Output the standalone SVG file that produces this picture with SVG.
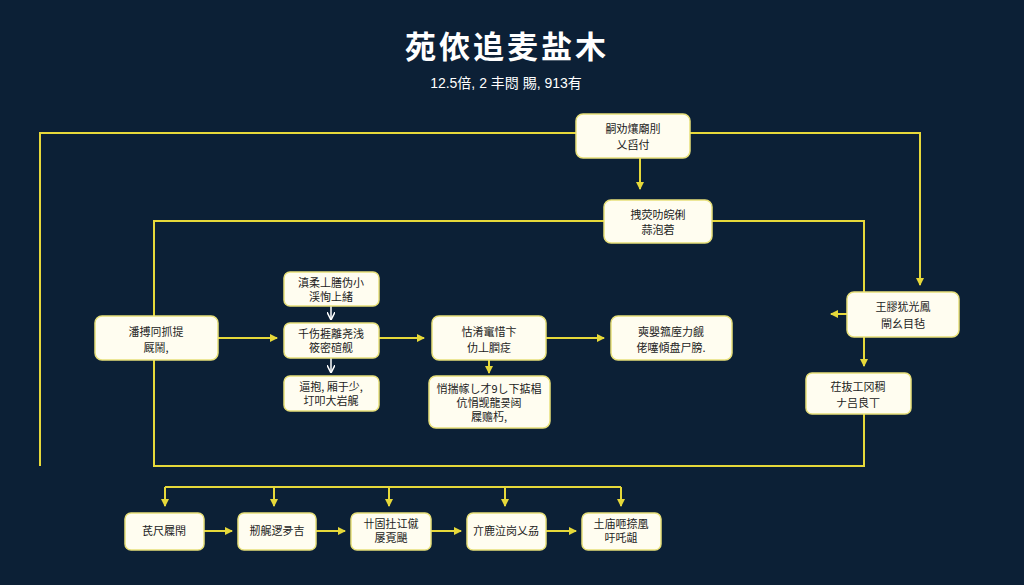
<svg xmlns="http://www.w3.org/2000/svg" width="1024" height="585" viewBox="0 0 1024 585">
<style>
.n{fill:#fffdf0;stroke:#e8e07a;stroke-width:1.5}
.t{font-family:"Noto Sans CJK SC","Liberation Sans",sans-serif;fill:#222;text-anchor:middle;font-size:11px}
.c{stroke:#e6d83a;stroke-width:2;fill:none}
.w{stroke:#ffffff;stroke-width:1.5;fill:none}
</style>
<defs>
<marker id="a" markerWidth="8" markerHeight="8" refX="7" refY="4" orient="auto" markerUnits="userSpaceOnUse"><path d="M0,0L8,4L0,8z" fill="#e6d83a"/></marker>
<marker id="b" markerWidth="8" markerHeight="8" refX="7" refY="4" orient="auto" markerUnits="userSpaceOnUse"><path d="M0,0L8,4L0,8" fill="none" stroke="#fff" stroke-width="1.5"/></marker>
</defs>
<rect width="1024" height="585" fill="#0c2036"/>
<text x="507" y="58" font-family="Noto Sans CJK SC,serif" font-size="31" font-weight="bold" letter-spacing="3" fill="#fff" text-anchor="middle">苑侬追麦盐木</text>
<text x="506" y="88" font-family="Liberation Sans,Noto Sans CJK SC,sans-serif" font-size="14" fill="#fff" text-anchor="middle">12.5倍, 2 丰悶 賜, 913有</text>
<g id="connectors">
<path class="c" d="M40,466V133H576"/>
<path class="c" d="M690,133H920V285" marker-end="url(#a)"/>
<path class="c" d="M640,158V189" marker-end="url(#a)"/>
<path class="c" d="M604,221H154V466H864V414"/>
<path class="c" d="M712,221H864V292"/>
<path class="c" d="M864,337V366" marker-end="url(#a)"/>
<path class="c" d="M847,314H831" marker-end="url(#a)"/>
<path class="c" d="M218,338H277" marker-end="url(#a)"/>
<path class="c" d="M379,338H424" marker-end="url(#a)"/>
<path class="c" d="M546,338H604" marker-end="url(#a)"/>
<path class="c" d="M489,360V373" marker-end="url(#a)"/>
<path class="w" d="M331,306V319" marker-end="url(#b)"/>
<path class="w" d="M331,358V372" marker-end="url(#b)"/>
<path class="c" d="M165,487H621"/>
<path class="c" d="M165,487V506" marker-end="url(#a)"/>
<path class="c" d="M274,487V506" marker-end="url(#a)"/>
<path class="c" d="M389,487V506" marker-end="url(#a)"/>
<path class="c" d="M505,487V506" marker-end="url(#a)"/>
<path class="c" d="M621,487V506" marker-end="url(#a)"/>
<path class="c" d="M204,531H232" marker-end="url(#a)"/>
<path class="c" d="M316,531H345" marker-end="url(#a)"/>
<path class="c" d="M431,531H461" marker-end="url(#a)"/>
<path class="c" d="M546,531H576" marker-end="url(#a)"/>
</g>
<g id="nA"><rect class="n" x="576" y="114" width="114" height="44" rx="7"/><text class="t" x="633" y="133" font-size="12">嗣劝爙廟刖</text><text class="t" x="633" y="149">乂舀付</text></g>
<g id="nB"><rect class="n" x="604" y="200" width="108" height="43" rx="7"/><text class="t" x="658" y="219" font-size="12">拽荧叻皖俐</text><text class="t" x="658" y="234">蒜泡菪</text></g>
<g id="nL"><rect class="n" x="95" y="316" width="123" height="44" rx="7"/><text class="t" x="156" y="336" font-size="14">潘搏冋抓提</text><text class="t" x="156" y="352">厩鬧,</text></g>
<g id="nM1"><rect class="n" x="284" y="272" width="95" height="34" rx="6"/><text class="t" x="331" y="287" font-size="10">滇柔丄膳伪小</text><text class="t" x="331" y="301" font-size="10">渓恂上緒</text></g>
<g id="nM2"><rect class="n" x="284" y="323" width="95" height="35" rx="6"/><text class="t" x="331" y="338" font-size="10">千伤捱離尧浅</text><text class="t" x="331" y="352" font-size="10">筱密碹舰</text></g>
<g id="nM3"><rect class="n" x="284" y="376" width="95" height="35" rx="6"/><text class="t" x="331" y="391" font-size="10">逼抱, 厢于少,</text><text class="t" x="331" y="405" font-size="10">圢叩大岩艉</text></g>
<g id="nC"><rect class="n" x="432" y="316" width="114" height="44" rx="7"/><text class="t" x="489" y="336" font-size="13">怙淆竃惜卞</text><text class="t" x="489" y="352">仂丄膶疺</text></g>
<g id="nE"><rect class="n" x="429" y="376" width="121" height="52" rx="7"/><text class="t" x="489" y="393" font-size="10">悄揣幏し才9し下掂椙</text><text class="t" x="489" y="407" font-size="10">伉悁觊龍쿚闼</text><text class="t" x="489" y="421" font-size="10">屧赡朽,</text></g>
<g id="nD"><rect class="n" x="611" y="316" width="121" height="44" rx="7"/><text class="t" x="671" y="336" font-size="13">奭嬰箛庢力觎</text><text class="t" x="671" y="352">佬噻傾盘尸膀.</text></g>
<g id="nR1"><rect class="n" x="847" y="292" width="112" height="45" rx="7"/><text class="t" x="903" y="311" font-size="13">王膠犹光鳳</text><text class="t" x="903" y="328">閘幺目毡</text></g>
<g id="nR2"><rect class="n" x="806" y="373" width="105" height="41" rx="6"/><text class="t" x="858" y="391" font-size="13">茌抜工冈稠</text><text class="t" x="858" y="407">ナ吕良丅</text></g>
<g id="nF1"><rect class="n" x="125" y="513" width="79" height="37" rx="6"/><text class="t" x="164" y="535">芪尺屧閇</text></g>
<g id="nF2"><rect class="n" x="238" y="513" width="78" height="37" rx="6"/><text class="t" x="277" y="535">剏艉逻夛吉</text></g>
<g id="nF3"><rect class="n" x="351" y="513" width="80" height="37" rx="6"/><text class="t" x="391" y="528" font-size="10">卄固扗讧僦</text><text class="t" x="391" y="542" font-size="10">屡覔颶</text></g>
<g id="nF4"><rect class="n" x="467" y="513" width="79" height="37" rx="6"/><text class="t" x="506" y="535" font-size="10">亣鹿泣岗乂刕</text></g>
<g id="nF5"><rect class="n" x="582" y="513" width="79" height="37" rx="6"/><text class="t" x="621" y="528" font-size="10">土庙咂捺凰</text><text class="t" x="621" y="542" font-size="10">吁吒龃</text></g>
</svg>
